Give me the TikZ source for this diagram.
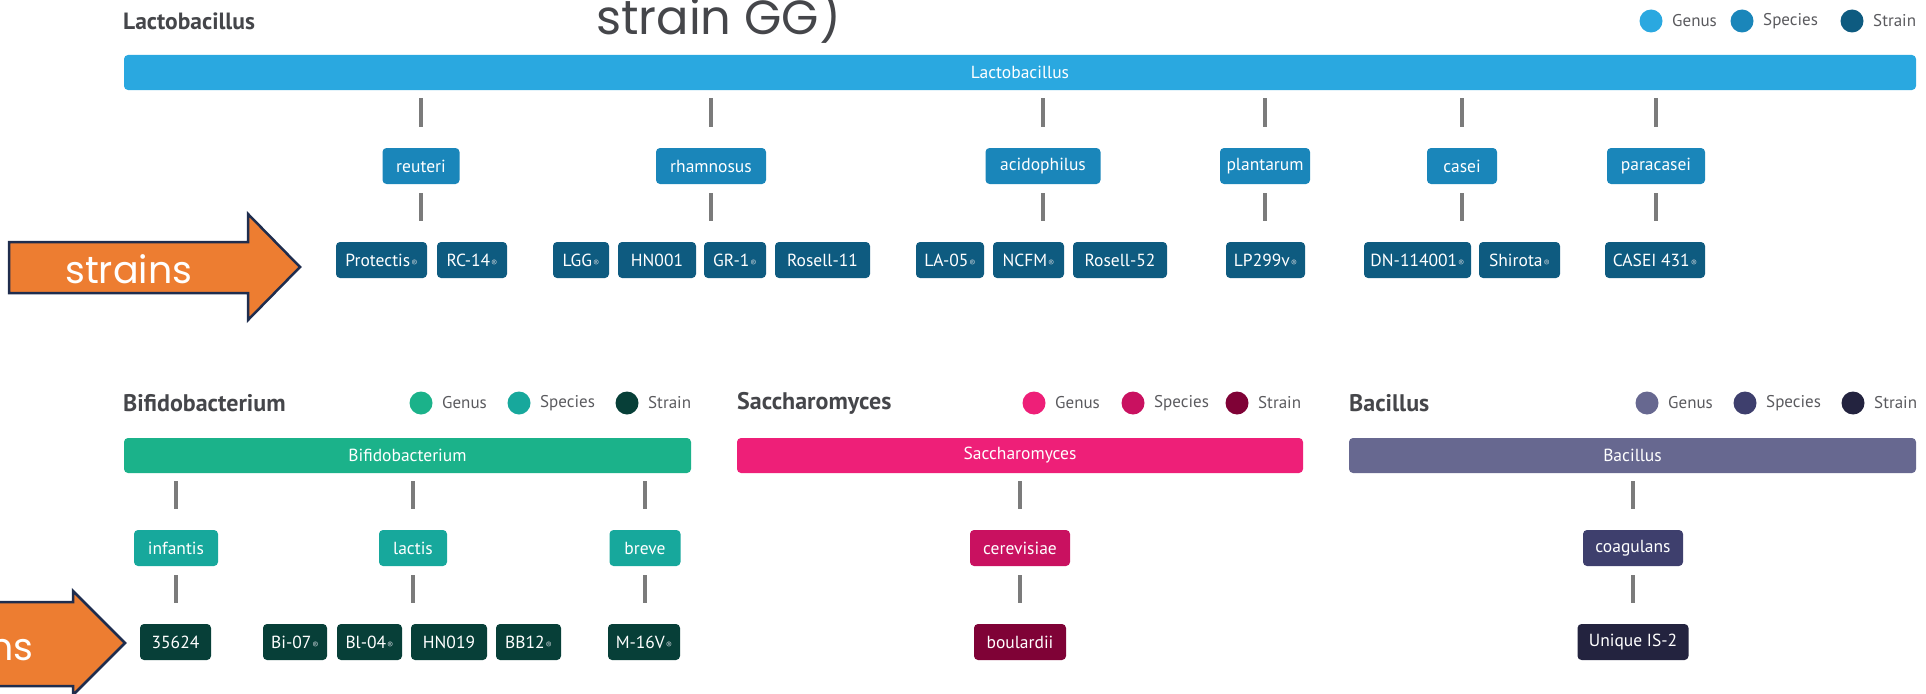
\documentclass[tikz,border=0pt]{standalone}
\usepackage{fontspec}
\setmainfont{PT Sans}
\newfontfamily\arrowfont{Poppins}
\usetikzlibrary{positioning,calc}

\definecolor{lactoGenus}{HTML}{2AA8E0}
\definecolor{lactoSpecies}{HTML}{1A86BA}
\definecolor{lactoStrain}{HTML}{0E5B80}
\definecolor{bifidoGenus}{HTML}{1BB28A}
\definecolor{bifidoSpecies}{HTML}{17A89C}
\definecolor{bifidoStrain}{HTML}{073F38}
\definecolor{sacchGenus}{HTML}{EE1F78}
\definecolor{sacchSpecies}{HTML}{C91160}
\definecolor{sacchStrain}{HTML}{7F0236}
\definecolor{bacGenus}{HTML}{676890}
\definecolor{bacSpecies}{HTML}{3E3F6D}
\definecolor{bacStrain}{HTML}{23233F}
\definecolor{titleGray}{HTML}{45464A}
\definecolor{legendGray}{HTML}{5A5A5E}
\definecolor{linkGray}{HTML}{7B7B7B}
\definecolor{regGray}{HTML}{C6D0D6}
\definecolor{arrowOrange}{HTML}{ED7D31}
\definecolor{arrowNavy}{HTML}{1F2D4E}

\newcommand{\reg}{{\kern1pt\fontsize{9}{9}\selectfont\color{regGray}®}}

\begin{document}
\begin{tikzpicture}[x=1pt, y=-1pt,
    box/.style={rounded corners=4pt, text=white, inner sep=0pt,
        font=\fontsize{17.5}{17.5}\selectfont, minimum height=36pt},
    title/.style={anchor=west, inner sep=0pt, text=titleGray,
        font=\bfseries\fontsize{24}{24}\selectfont},
    legendtext/.style={anchor=west, inner sep=0pt, text=legendGray,
        font=\fontsize{17}{17}\selectfont},
    link/.style={draw=linkGray, line width=3.5pt},
    uplink/.style={link, shorten <=8pt, shorten >=21pt},
    downlink/.style={link, shorten <=9pt, shorten >=21pt},
    arrowshape/.style={fill=arrowOrange, draw=arrowNavy, line width=2.5pt, line join=miter},
    arrowtext/.style={inner sep=0pt, text=white, font=\arrowfont\fontsize{38}{38}\selectfont}]
    \useasboundingbox (0,0) rectangle (1926,693);
    \clip (0,0) rectangle (1926,693);

    % Lactobacillus
    \node[title, font=\bfseries\fontsize{23.5}{23.5}\selectfont] (lactoTitle) at (123,21) {Lactobacillus};
    \node[anchor=base west, inner sep=0pt, text=titleGray, font=\arrowfont\fontsize{48}{48}\selectfont] (strainGG) at (596,35) {strain GG)};
    \foreach \x/\c/\t in {1651/lactoGenus/Genus, 1742/lactoSpecies/Species, 1852/lactoStrain/Strain}{
        \fill[\c] (\x,21) circle (11.5);
        \node[legendtext] (lactoLegend-\t) at (\x+21,21) {\t};
    }
    \node[box, fill=lactoGenus, minimum width=1792pt, minimum height=35pt] (lacto) at (1020,72.5) {Lactobacillus};
    \foreach \n/\x/\w in {reuteri/421/77, rhamnosus/711/110, acidophilus/1043/115,
                          plantarum/1265/90, casei/1462/70, paracasei/1656/98}{
        \node[box, fill=lactoSpecies, minimum width=\w pt] (sp-\n) at (\x,166) {\n};
        \draw[uplink] (sp-\n.north |- lacto.south) -- (sp-\n.north);
    }
    \foreach \id/\x/\w/\lab in {protectis/381.5/91/Protectis\reg, rc14/472/70/RC-14\reg,
            lgg/581/56/LGG\reg, hn001/657/78/HN001, gr1/735/62/GR-1\reg,
            rosell11/822.5/95/Rosell-11, la05/950/68/LA-05\reg, ncfm/1028.5/71/NCFM\reg,
            rosell52/1120/94/Rosell-52, lp299v/1265.5/79/LP299v\reg,
            dn114001/1417.5/107/DN-114001\reg, shirota/1519.5/81/Shirota\reg,
            casei431/1655/100/CASEI 431\reg}{
        \node[box, fill=lactoStrain, minimum width=\w pt] (st-\id) at (\x,260) {\lab};
    }
    \foreach \n/\id in {reuteri/protectis, rhamnosus/lgg, acidophilus/la05,
                        plantarum/lp299v, casei/dn114001, paracasei/casei431}{
        \draw[downlink] (sp-\n.south) -- (sp-\n.south |- st-\id.north);
    }

    % Bifidobacterium
    \node[title] (bifidoTitle) at (123,403) {Bifidobacterium};
    \foreach \x/\c/\t in {421/bifidoGenus/Genus, 519/bifidoSpecies/Species, 627/bifidoStrain/Strain}{
        \fill[\c] (\x,403) circle (11.5);
        \node[legendtext] (bifidoLegend-\t) at (\x+21,403) {\t};
    }
    \node[box, fill=bifidoGenus, minimum width=567pt, minimum height=35pt] (bifido) at (407.5,455.5) {Bifidobacterium};
    \foreach \n/\x/\w in {infantis/176/84, lactis/413/68, breve/645/71}{
        \node[box, fill=bifidoSpecies, minimum width=\w pt] (sp-\n) at (\x,548) {\n};
        \draw[uplink] (sp-\n.north |- bifido.south) -- (sp-\n.north);
    }
    \foreach \id/\x/\w/\lab in {b35624/175.5/71/35624, bi07/295/64/Bi-07\reg,
            bl04/369.5/65/Bl-04\reg, hn019/449/76/HN019, bb12/528.5/65/BB12\reg,
            m16v/644/72/M-16V\reg}{
        \node[box, fill=bifidoStrain, minimum width=\w pt] (st-\id) at (\x,642) {\lab};
    }
    \foreach \n/\id in {infantis/b35624, lactis/bi07, breve/m16v}{
        \draw[downlink] (sp-\n.south) -- (sp-\n.south |- st-\id.north);
    }

    % Saccharomyces
    \node[title] (sacchTitle) at (737,403) {Saccharomyces};
    \foreach \x/\c/\t in {1034/sacchGenus/Genus, 1133/sacchSpecies/Species, 1237/sacchStrain/Strain}{
        \fill[\c] (\x,403) circle (11.5);
        \node[legendtext] (sacchLegend-\t) at (\x+21,403) {\t};
    }
    \node[box, fill=sacchGenus, minimum width=566pt, minimum height=35pt] (sacch) at (1020,455.5) {Saccharomyces};
    \node[box, fill=sacchSpecies, minimum width=100pt] (sp-cerevisiae) at (1020,548) {cerevisiae};
    \node[box, fill=sacchStrain, minimum width=92pt] (st-boulardii) at (1020,642) {boulardii};
    \draw[uplink] (sp-cerevisiae.north |- sacch.south) -- (sp-cerevisiae.north);
    \draw[downlink] (sp-cerevisiae.south) -- (st-boulardii.north);

    % Bacillus
    \node[title] (bacTitle) at (1349,403) {Bacillus};
    \foreach \x/\c/\t in {1647/bacGenus/Genus, 1745/bacSpecies/Species, 1853/bacStrain/Strain}{
        \fill[\c] (\x,403) circle (11.5);
        \node[legendtext] (bacLegend-\t) at (\x+21,403) {\t};
    }
    \node[box, fill=bacGenus, minimum width=567pt, minimum height=35pt] (bac) at (1632.5,455.5) {Bacillus};
    \node[box, fill=bacSpecies, minimum width=100pt] (sp-coagulans) at (1633,548) {coagulans};
    \node[box, fill=bacStrain, minimum width=111pt] (st-uniqueIS2) at (1633,642) {Unique IS-2};
    \draw[uplink] (sp-coagulans.north |- bac.south) -- (sp-coagulans.north);
    \draw[downlink] (sp-coagulans.south) -- (st-uniqueIS2.north);

    % strain arrows
    \draw[arrowshape] (9,242) -- (248,242) -- (248,214) -- (300,267) -- (248,320)
        -- (248,293) -- (9,293) -- cycle;
    \node[arrowtext, anchor=base west] (strainsTop) at (65,283) {strains};
    \draw[arrowshape] (-200,602) -- (73,602) -- (73,591) -- (125,643) -- (73,695)
        -- (73,686) -- (-200,686) -- cycle;
    \node[arrowtext, anchor=base east] (strainsBottom) at (34,660) {strains};
\end{tikzpicture}
\end{document}
